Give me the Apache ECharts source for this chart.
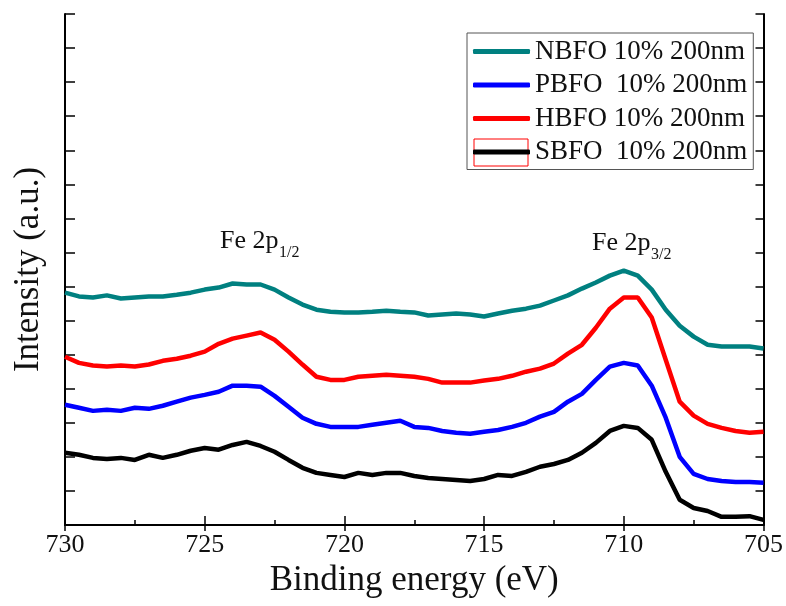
<!DOCTYPE html>
<html>
<head>
<meta charset="utf-8">
<script src="https://cdn.jsdelivr.net/npm/echarts@6/dist/echarts.min.js"></script>
<style>
    html,body{margin:0;padding:0;background:#fff;}
    #chart1{width:786px;height:606px;}
</style>
</head>
<body>
<div id="chart1"></div>
<script>
// binding energy (eV), 730 -> 705
var energy=[730,729.5,729,728.5,728,727.5,727,726.5,726,725.5,725,724.5,724,723.5,723,722.5,722,721.5,721,720.5,
    720,719.5,719,718.5,718,717.5,717,716.5,716,715.5,715,714.5,714,713.5,713,712.5,712,711.5,711,710.5,
    710,709.5,709,708.5,708,707.5,707,706.5,706,705.5,705];
var NBFO=[6.82,6.71,6.68,6.74,6.65,6.68,6.71,6.71,6.76,6.82,6.91,6.97,7.09,7.06,7.06,6.91,6.68,6.47,6.32,6.26,
    6.24,6.24,6.26,6.29,6.26,6.24,6.15,6.18,6.21,6.18,6.12,6.21,6.29,6.35,6.44,6.59,6.74,6.94,7.12,7.32,
    7.47,7.32,6.91,6.32,5.85,5.53,5.29,5.24,5.24,5.24,5.18];
var PBFO=[3.53,3.44,3.35,3.38,3.35,3.44,3.41,3.50,3.62,3.74,3.82,3.91,4.09,4.09,4.06,3.79,3.47,3.15,2.97,2.88,
    2.88,2.88,2.94,3.00,3.06,2.88,2.85,2.76,2.71,2.68,2.74,2.79,2.88,3.00,3.18,3.32,3.62,3.85,4.26,4.65,
    4.76,4.68,4.09,3.15,2.00,1.50,1.35,1.29,1.26,1.26,1.24];
var HBFO=[4.94,4.76,4.68,4.65,4.68,4.65,4.71,4.82,4.88,4.97,5.09,5.32,5.47,5.56,5.65,5.44,5.09,4.71,4.35,4.26,
    4.26,4.35,4.38,4.41,4.38,4.35,4.29,4.18,4.18,4.18,4.24,4.29,4.38,4.50,4.59,4.74,5.03,5.29,5.79,6.35,
    6.68,6.68,6.09,4.85,3.62,3.21,2.97,2.85,2.76,2.71,2.74];
var SBFO=[2.12,2.06,1.97,1.94,1.97,1.91,2.06,1.97,2.06,2.18,2.26,2.21,2.35,2.44,2.32,2.15,1.91,1.68,1.53,1.47,
    1.41,1.53,1.47,1.53,1.53,1.44,1.38,1.35,1.32,1.29,1.35,1.47,1.44,1.56,1.71,1.79,1.91,2.12,2.41,2.76,
    2.91,2.85,2.50,1.56,0.74,0.50,0.41,0.24,0.24,0.26,0.15];
var names=["NBFO 10% 200nm","PBFO  10% 200nm","HBFO 10% 200nm","SBFO  10% 200nm"];
var colors=["#008080","#0000ff","#ff0000","#000000"];
var xTicks=[730,725,720,715,710,705];

var pair=function (arr) {
    return energy.map(function (e,i) {return [e,arr[i]]});
};
var font="Liberation Serif";

var chart=echarts.init(document.getElementById("chart1"));
var option={
    animation:false,
    backgroundColor:"#fff",
    grid:{left:65,right:21,top:14,bottom:81},
    legend:{
        data:names,
        orient:"vertical",
        left:467,
        top:33,
        padding:[5,6,4,6],
        borderColor:"#555",
        borderWidth:1,
        itemGap:6.5,
        itemWidth:57,
        itemHeight:5,
        icon:"roundRect",
        textStyle:{fontFamily:font,fontSize:27,color:"#111",lineHeight:27}
    },
    xAxis:[{
        type:"value",
        inverse:true,
        min:705,max:730,interval:5,
        axisLine:{lineStyle:{color:"#000",width:2}},
        axisTick:{inside:true,length:9,lineStyle:{color:"#000",width:1.5}},
        minorTick:{show:true,splitNumber:2,length:5,lineStyle:{color:"#000",width:1.5}},
        splitLine:{show:false},
        axisLabel:{fontFamily:font,fontSize:26,color:"#111",margin:7,
            formatter:function (v) {return xTicks.indexOf(v)>=0?String(v):"";}},
        name:"Binding energy (eV)",
        nameLocation:"middle",
        nameGap:38,
        nameTextStyle:{fontFamily:font,fontSize:35,color:"#111"}
    },{
        type:"value",
        position:"top",
        inverse:true,
        min:705,max:730,interval:5,
        axisLine:{lineStyle:{color:"#000",width:2}},
        axisTick:{inside:true,length:6,lineStyle:{color:"#000",width:1.5}},
        axisLabel:{show:false},
        splitLine:{show:false}
    }],
    yAxis:[{
        type:"value",
        min:0,max:15,interval:1,
        axisLine:{show:true,lineStyle:{color:"#000",width:2}},
        axisTick:{show:true,inside:true,length:10,lineStyle:{color:"#000",width:1.5}},
        axisLabel:{show:false},
        splitLine:{show:false},
        name:"Intensity (a.u.)",
        nameLocation:"middle",
        nameGap:19,
        nameTextStyle:{fontFamily:font,fontSize:35,color:"#111"}
    },{
        type:"value",
        position:"right",
        min:0,max:15,interval:1,
        axisLine:{show:true,lineStyle:{color:"#000",width:2}},
        axisTick:{show:true,inside:true,length:8,lineStyle:{color:"#000",width:1.5}},
        axisLabel:{show:false},
        splitLine:{show:false}
    }],
    graphic:[
        {type:"text",left:220,top:228,style:{text:"Fe 2p",fontFamily:font,fontSize:26,fill:"#111"}},
        {type:"text",left:279,top:245,style:{text:"1/2",fontFamily:font,fontSize:16,fill:"#111"}},
        {type:"text",left:592,top:230,style:{text:"Fe 2p",fontFamily:font,fontSize:26,fill:"#111"}},
        {type:"text",left:651,top:247,style:{text:"3/2",fontFamily:font,fontSize:16,fill:"#111"}},
        {type:"rect",shape:{x:474,y:139,width:54,height:27},style:{fill:"none",stroke:"#ff0000",lineWidth:1}}
    ],
    series:[
        {name:names[0],type:"line",data:pair(NBFO),showSymbol:false,lineStyle:{color:colors[0],width:4.5},itemStyle:{color:colors[0]}},
        {name:names[1],type:"line",data:pair(PBFO),showSymbol:false,lineStyle:{color:colors[1],width:4.5},itemStyle:{color:colors[1]}},
        {name:names[2],type:"line",data:pair(HBFO),showSymbol:false,lineStyle:{color:colors[2],width:4.5},itemStyle:{color:colors[2]}},
        {name:names[3],type:"line",data:pair(SBFO),showSymbol:false,lineStyle:{color:colors[3],width:4.5},itemStyle:{color:colors[3]}}
    ]
};
chart.setOption(option);
</script>
</body>
</html>
